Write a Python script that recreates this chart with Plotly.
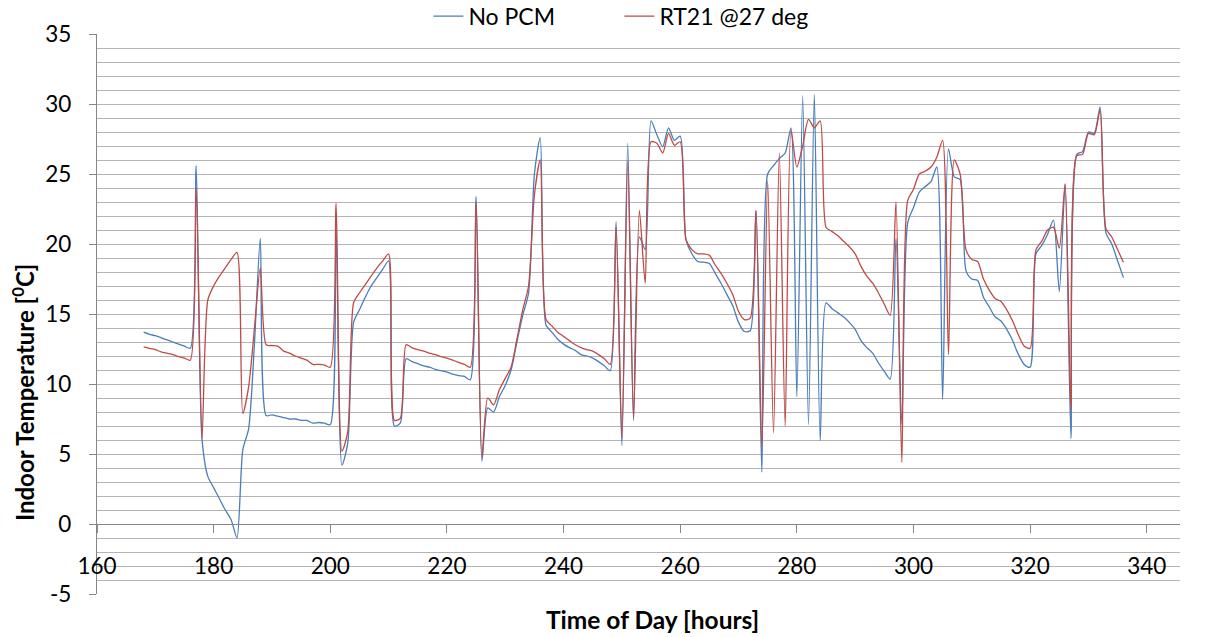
import plotly.graph_objects as go

hours = list(range(168, 337))

no_pcm = [
    13.7, 13.55, 13.45, 13.3, 13.15, 13.0, 12.85, 12.7, 12.55, 25.6,   # 168-177
    6.1, 3.4, 2.6, 1.8, 1.0, 0.3, -1.0, 5.3, 6.8, 12.9,                # 178-187
    20.4, 7.75, 7.8, 7.7, 7.6, 7.5, 7.5, 7.4, 7.4, 7.2,                # 188-197
    7.25, 7.2, 7.1, 21.2, 4.2, 5.8, 14.4, 15.3, 16.2, 17.0,            # 198-207
    17.6, 18.2, 18.8, 7.0, 7.2, 11.8, 11.6, 11.45, 11.3, 11.2,         # 208-217
    11.05, 10.95, 10.85, 10.7, 10.6, 10.55, 10.3, 23.4, 4.5, 8.3,      # 218-227
    8.0, 9.1, 9.9, 11.0, 13.0, 14.9, 16.5, 25.0, 27.6, 14.2,           # 228-237
    13.7, 13.2, 12.85, 12.6, 12.4, 12.1, 12.0, 11.85, 11.6, 11.3,      # 238-247
    10.95, 21.6, 5.6, 27.2, 7.4, 20.5, 19.6, 28.8, 27.8, 26.95,        # 248-257
    28.3, 27.4, 27.7, 20.3, 19.3, 18.75, 18.7, 18.6, 17.9, 17.2,       # 258-267
    16.4, 15.6, 14.4, 13.75, 13.8, 22.4, 3.7, 25.0, 25.6, 26.1,        # 268-277
    26.5, 28.3, 9.1, 30.6, 7.1, 30.7, 5.95, 15.8, 15.4, 15.1,          # 278-287
    14.8, 14.4, 13.9, 13.1, 12.6, 12.2, 11.5, 10.9, 10.35, 20.4,       # 288-297
    7.15, 21.5, 22.6, 23.7, 24.1, 24.45, 25.5, 8.9, 26.8, 24.8,        # 298-307
    24.6, 18.1, 17.5, 17.4, 16.2, 15.5, 14.8, 14.5, 13.9, 13.1,        # 308-317
    12.1, 11.4, 11.2, 19.3, 19.9, 20.7, 21.7, 16.6, 24.3, 6.1,         # 318-327
    26.4, 26.6, 28.0, 27.9, 29.8, 20.8, 20.0, 18.8, 17.6,              # 328-336
]

rt21 = [
    12.65, 12.55, 12.45, 12.3, 12.2, 12.1, 11.95, 11.85, 11.7, 24.0,   # 168-177
    6.1, 16.0, 17.0, 17.7, 18.3, 18.9, 19.4, 7.9, 9.8, 14.0,           # 178-187
    18.3, 12.8, 12.75, 12.7, 12.35, 12.2, 12.0, 11.85, 11.7, 11.4,     # 188-197
    11.4, 11.35, 11.2, 22.9, 5.2, 6.6, 15.8, 16.5, 17.1, 17.7,         # 198-207
    18.3, 18.8, 19.3, 7.4, 7.55, 12.8, 12.6, 12.45, 12.35, 12.2,       # 208-217
    12.1, 11.95, 11.85, 11.7, 11.55, 11.4, 11.2, 23.0, 4.8, 9.0,       # 218-227
    8.5, 9.6, 10.4, 11.2, 13.2, 15.3, 17.0, 23.5, 26.0, 14.6,          # 228-237
    14.15, 13.7, 13.4, 13.1, 12.8, 12.6, 12.45, 12.35, 12.1, 11.8,     # 238-247
    11.4, 21.2, 6.1, 25.9, 7.55, 22.4, 17.2, 27.3, 27.2, 26.5,         # 248-257
    27.9, 27.05, 27.3, 20.3, 19.6, 19.3, 19.3, 19.2, 18.5, 17.9,       # 258-267
    17.2, 16.4, 15.2, 14.6, 14.7, 22.4, 5.5, 24.5, 6.5, 26.5,          # 268-277
    7.0, 28.1, 25.5, 27.0, 28.9, 28.3, 28.8, 21.2, 20.9, 20.6,         # 278-287
    20.2, 19.8, 19.3, 18.4, 17.7, 17.2, 16.5, 15.7, 14.9, 23.0,        # 288-297
    4.4, 23.1, 23.9, 25.0, 25.2, 25.5, 26.2, 27.4, 12.1, 26.0,         # 298-307
    25.0, 19.6, 18.9, 18.75, 17.5, 16.7, 16.1, 15.9, 15.3, 14.5,       # 308-317
    13.5, 12.7, 12.55, 19.6, 20.2, 21.0, 21.2, 19.7, 24.3, 8.1,        # 318-327
    26.3, 26.4, 27.9, 27.8, 29.6, 21.1, 20.5, 19.6, 18.7,              # 328-336
]

x_ticks = [160, 180, 200, 220, 240, 260, 280, 300, 320, 340]
y_ticks = [-5, 0, 5, 10, 15, 20, 25, 30, 35]

FONT = "Lato, 'Open Sans', sans-serif"
AXIS = "#868686"
GRID = "#b4b4b4"

fig = go.Figure()
fig.add_trace(go.Scatter(x=hours, y=no_pcm, mode="lines", name="No PCM",
                         line=dict(color="#4a7ebb", width=1.3, shape="spline", smoothing=0.7)))
fig.add_trace(go.Scatter(x=hours, y=rt21, mode="lines", name="RT21 @27 deg",
                         line=dict(color="#be4b48", width=1.3, shape="spline", smoothing=0.7)))

fig.update_layout(
    width=1206, height=637,
    margin=dict(l=97, r=26, t=34, b=43, autoexpand=False),
    paper_bgcolor="white", plot_bgcolor="white",
    font=dict(family=FONT, size=22, color="#000000"),
    showlegend=True,
    legend=dict(orientation="h", x=0.306, xanchor="left", y=1.032, yanchor="middle",
                font=dict(size=23), bgcolor="rgba(0,0,0,0)", entrywidth=146,
                entrywidthmode="pixels"),
    xaxis=dict(range=[160, 345.7], tickvals=x_ticks, ticktext=[str(v) for v in x_ticks],
               anchor="free", position=0.125, showline=True, linecolor=AXIS, linewidth=1.3,
               ticks="outside", ticklen=8, tickcolor=AXIS, tickwidth=1.3,
               ticklabelstandoff=14, showgrid=False, zeroline=False,
               tickfont=dict(size=22.5)),
    yaxis=dict(range=[-5, 35], tickvals=y_ticks, ticktext=[str(v) for v in y_ticks],
               showline=True, linecolor=AXIS, linewidth=1.3,
               ticks="outside", ticklen=7, tickcolor=AXIS, tickwidth=1.3,
               ticklabelstandoff=13,
               showgrid=True, gridcolor=GRID, gridwidth=1.3, zeroline=False,
               minor=dict(dtick=1, showgrid=True, gridcolor=GRID, gridwidth=1.3, ticks=""),
               tickfont=dict(size=22.5)),
)

fig.add_annotation(text="<b>Time of Day [hours]</b>", xref="paper", yref="paper",
                   x=0.5125, y=-0.046, xanchor="center", yanchor="middle", showarrow=False,
                   font=dict(size=24.5))
fig.add_annotation(text="<b>Indoor Temperature [<sup>0</sup>C]</b>", xref="paper", yref="paper",
                   x=-0.0683, y=0.359, xanchor="center", yanchor="middle", showarrow=False,
                   textangle=-90, font=dict(size=24))

fig.write_html("out.html")
